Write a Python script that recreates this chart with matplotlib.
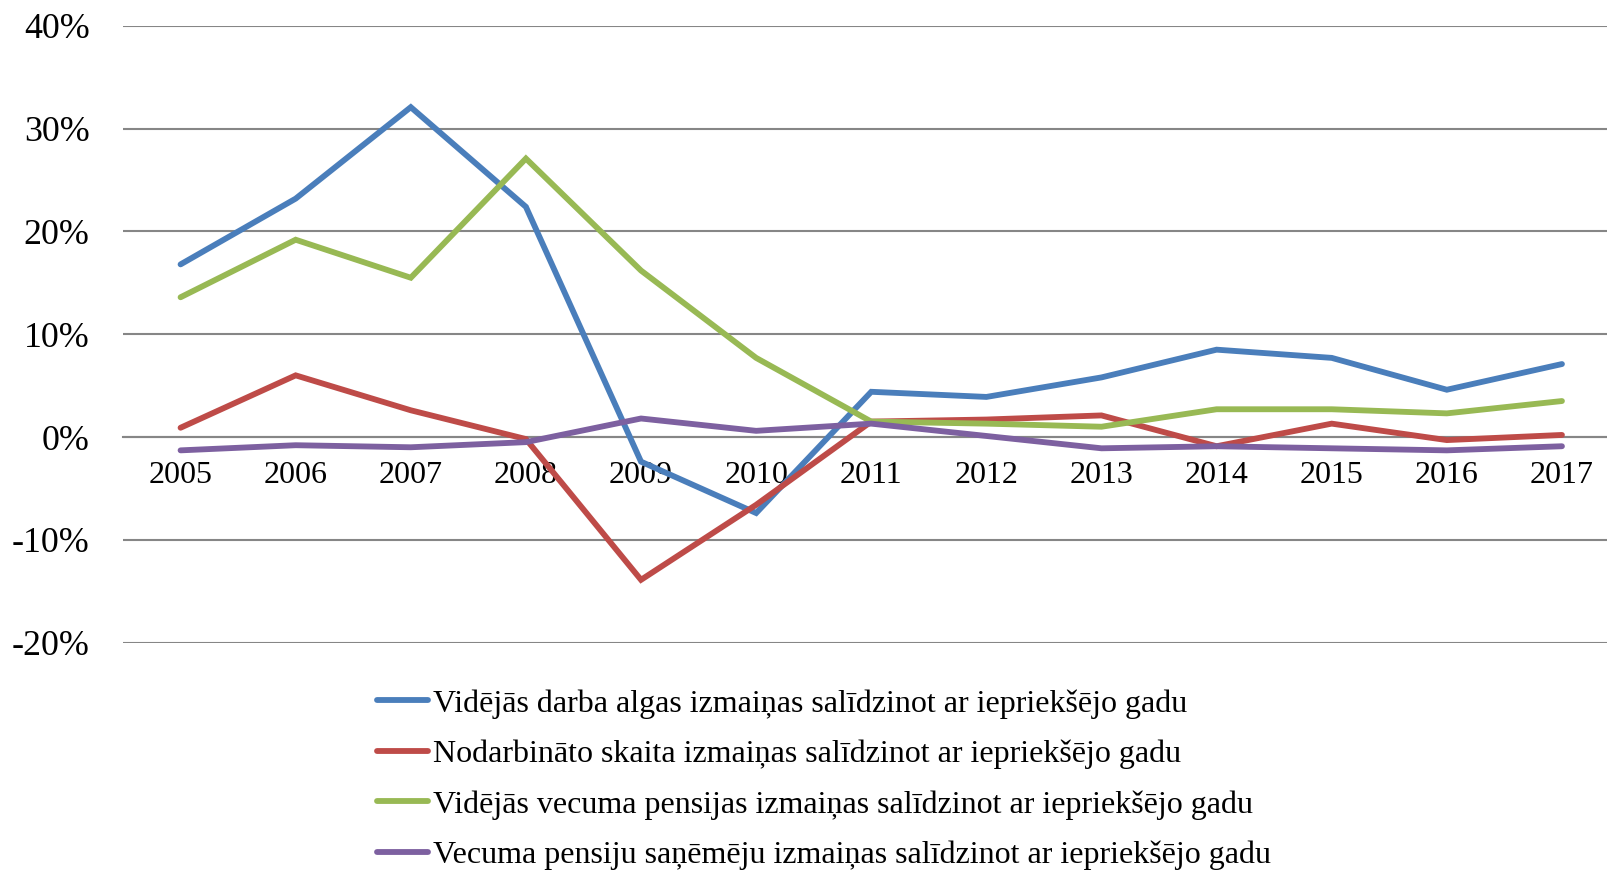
import matplotlib
matplotlib.use("Agg")
import matplotlib.pyplot as plt
from matplotlib.ticker import FuncFormatter, MultipleLocator

years = ["2005", "2006", "2007", "2008", "2009", "2010", "2011",
         "2012", "2013", "2014", "2015", "2016", "2017"]

wage = [16.8, 23.2, 32.1, 22.4, -2.4, -7.4, 4.4, 3.9, 5.8, 8.5, 7.7, 4.6, 7.1]
employed = [0.9, 6.0, 2.6, -0.2, -13.9, -6.6, 1.5, 1.7, 2.1, -0.9, 1.3, -0.3, 0.2]
pension = [13.6, 19.2, 15.5, 27.1, 16.2, 7.7, 1.5, 1.3, 1.0, 2.7, 2.7, 2.3, 3.5]
recipients = [-1.3, -0.8, -1.0, -0.5, 1.8, 0.6, 1.3, 0.1, -1.1, -0.9, -1.1, -1.3, -0.9]

labels = [
    "Vidējās darba algas izmaiņas salīdzinot ar iepriekšējo gadu",
    "Nodarbināto skaita izmaiņas salīdzinot ar iepriekšējo gadu",
    "Vidējās vecuma pensijas izmaiņas salīdzinot ar iepriekšējo gadu",
    "Vecuma pensiju saņēmēju izmaiņas salīdzinot ar iepriekšējo gadu",
]
colors = ["#4A7EBB", "#BE4B48", "#98B954", "#7D60A0"]

plt.rcParams['font.family'] = ['Liberation Serif', 'DejaVu Serif']

fig = plt.figure(figsize=(16.08, 8.72), dpi=100)
ax = fig.add_axes([123/1608, (872-642.5)/872, 1 - 123/1608, (642.5-26)/872])

x = list(range(len(years)))
handles = []
for series, c, lab in zip([wage, employed, pension, recipients], colors, labels):
    h, = ax.plot(x, series, color=c, lw=4.2, label=lab, solid_capstyle='round',
                 solid_joinstyle='miter', zorder=3)
    handles.append(h)

ax.set_xlim(-0.5, len(years) - 0.6)
ax.set_ylim(-20, 40)
ax.yaxis.set_major_locator(MultipleLocator(10))
ax.yaxis.set_major_formatter(FuncFormatter(lambda v, p: f"{v:.0f}%"))
ax.grid(axis='y', color='#868686', lw=1.5, zorder=1)
ax.set_axisbelow(True)
for s in ['top', 'right', 'left']:
    ax.spines[s].set_visible(False)
ax.spines['bottom'].set_position(('data', 0))
ax.spines['bottom'].set_color('#868686')
ax.spines['bottom'].set_linewidth(1.5)
ax.set_xticks(x)
ax.set_xticklabels(years)
ax.tick_params(axis='x', length=0, pad=17, labelsize=23)
ax.tick_params(axis='y', length=0, pad=24, labelsize=25.8)

fig.legend(handles=handles, loc='upper left', bbox_to_anchor=(377/1608, 1 - 689/872),
           frameon=False, fontsize=23, handlelength=1.6, handletextpad=0.15,
           labelspacing=0.66, borderaxespad=0, borderpad=0)

fig.savefig("out.png", dpi=100)
